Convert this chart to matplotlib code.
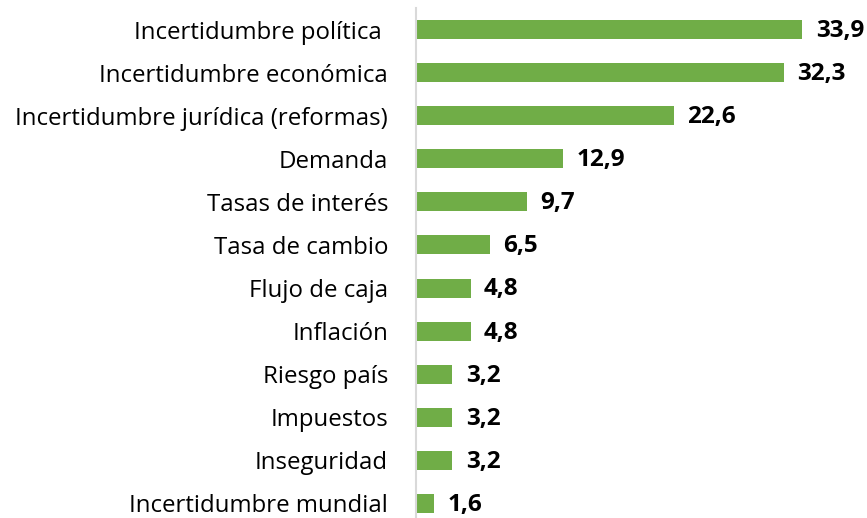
import numpy as np
import matplotlib.pyplot as plt

plt.rcParams['font.family'] = ['Open Sans', 'DejaVu Sans']

categorias = [
    'Incertidumbre política ', 'Incertidumbre económica',
    'Incertidumbre jurídica (reformas)', 'Demanda', 'Tasas de interés',
    'Tasa de cambio', 'Flujo de caja', 'Inflación', 'Riesgo país',
    'Impuestos', 'Inseguridad', 'Incertidumbre mundial'
]
valores = [33.9, 32.3, 22.6, 12.9, 9.7, 6.5, 4.8, 4.8, 3.2, 3.2, 3.2, 1.6]
etiquetas = [f'{v:.1f}'.replace('.', ',') for v in valores]

fig = plt.figure(figsize=(8.67, 5.18), dpi=100)
ax = fig.add_axes([416 / 867, -7 / 518, 451 / 867, 517 / 518])

y = np.arange(len(categorias))
barras = ax.barh(y, valores, height=0.44, color='#70AD47')

for b, txt in zip(barras, etiquetas):
    ax.annotate(txt, (b.get_width(), b.get_y() + b.get_height() / 2),
                xytext=(9.5, -1), textcoords='offset points',
                ha='left', va='center', fontsize=17.5, fontweight='bold', color='black')

ax.set_yticks(y)
ax.set_yticklabels(categorias, fontsize=17.3)
ax.set_ylim(len(categorias) - 0.5, -0.5)
ax.set_xlim(0, 451 / 11.4)
ax.set_xticks([])
ax.tick_params(axis='y', length=0, pad=20)
for lado in ['top', 'right', 'bottom']:
    ax.spines[lado].set_visible(False)
ax.spines['left'].set_color('#d9d9d9')
ax.spines['left'].set_linewidth(1.5)

fig.savefig('out.png', dpi=100)
